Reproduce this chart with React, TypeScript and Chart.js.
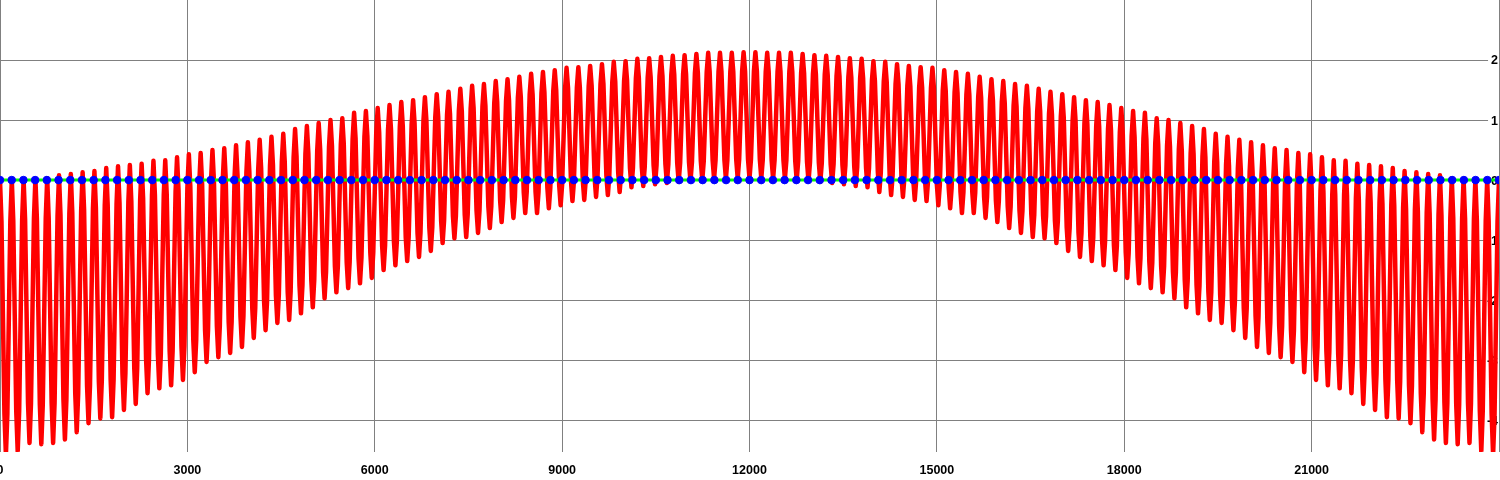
import React, { useEffect, useRef } from 'react';
import { Chart, registerables } from 'chart.js';

Chart.register(...registerables);

// ---- axes ----
const X_MIN = 0;
const X_MAX = 24000;
const X_TICK_STEP = 3000;
const X_LABELS = [0, 3000, 6000, 9000, 12000, 15000, 18000, 21000];
const Y_MIN = -4.53;
const Y_MAX = 3;
const Y_TICKS = [-4, -3, -2, -1, 0, 1, 2];

// ---- red oscillation: value of each crest (127 cycles -> 128 crests) ----
const CREST_VALUES = [
  0.00, 0.00, 0.01, 0.02, 0.03, 0.08, 0.10, 0.13, 0.15, 0.20,
  0.23, 0.25, 0.27, 0.32, 0.33, 0.38, 0.43, 0.45, 0.50, 0.53,
  0.58, 0.63, 0.67, 0.72, 0.77, 0.85, 0.90, 0.95, 1.00, 1.03,
  1.12, 1.15, 1.20, 1.25, 1.30, 1.33, 1.38, 1.43, 1.47, 1.52,
  1.57, 1.60, 1.65, 1.68, 1.72, 1.77, 1.80, 1.83, 1.87, 1.88,
  1.90, 1.93, 1.97, 1.98, 2.02, 2.03, 2.05, 2.07, 2.08, 2.10,
  2.12, 2.12, 2.12, 2.13,
  2.13, 2.12, 2.12, 2.12, 2.10, 2.08, 2.07, 2.05, 2.03, 2.02,
  1.98, 1.97, 1.93, 1.90, 1.88, 1.87, 1.83, 1.80, 1.77, 1.72,
  1.68, 1.65, 1.60, 1.57, 1.52, 1.47, 1.43, 1.38, 1.33, 1.30,
  1.25, 1.20, 1.15, 1.12, 1.03, 1.00, 0.95, 0.90, 0.85, 0.77,
  0.72, 0.67, 0.63, 0.58, 0.53, 0.50, 0.45, 0.43, 0.38, 0.33,
  0.32, 0.27, 0.25, 0.23, 0.20, 0.15, 0.13, 0.10, 0.08, 0.03,
  0.02, 0.01, 0.00, 0.00,
];

// ---- red oscillation: value of each trough (one per cycle, 127) ----
const TROUGH_VALUES = [
  -4.58, -4.52, -4.38, -4.40, -4.38, -4.32, -4.20, -4.05, -3.97, -3.95,
  -3.83, -3.73, -3.55, -3.47, -3.42, -3.33, -3.20, -3.03, -2.95, -2.88,
  -2.78, -2.63, -2.50, -2.38, -2.33, -2.22, -2.12, -1.97, -1.87, -1.80,
  -1.72, -1.63, -1.50, -1.42, -1.35, -1.28, -1.18, -1.05, -0.97, -0.95,
  -0.88, -0.80, -0.70, -0.63, -0.55, -0.55, -0.47, -0.42, -0.35, -0.33,
  -0.28, -0.25, -0.20, -0.12, -0.10, -0.07, -0.05, -0.03, -0.02, 0.00,
  0.02, 0.02, 0.03, 0.03,
  0.03, 0.02, 0.02, 0.00, -0.02, -0.03, -0.05, -0.07, -0.10, -0.12,
  -0.20, -0.25, -0.28, -0.33, -0.35, -0.42, -0.47, -0.55, -0.55, -0.63,
  -0.70, -0.80, -0.88, -0.95, -0.97, -1.05, -1.18, -1.28, -1.35, -1.42,
  -1.50, -1.63, -1.72, -1.80, -1.87, -1.97, -2.12, -2.22, -2.33, -2.38,
  -2.50, -2.63, -2.78, -2.88, -2.95, -3.03, -3.20, -3.33, -3.42, -3.47,
  -3.55, -3.73, -3.83, -3.95, -3.97, -4.05, -4.20, -4.32, -4.38, -4.40,
  -4.38, -4.52, -4.58,
];

// shape of one falling / rising half-cycle (share of the crest-trough span)
const FALL_PROFILE = [0.85, 0.5, 0.15];
const RISE_PROFILE = [0.15, 0.5, 0.85];

// ---- blue markers on the green line ----
const MARKER_STEP = 187.5;
const MARKER_COUNT = 129;
const MARKER_VALUE = 0;

function buildWave() {
  const cycles = TROUGH_VALUES.length;
  const period = (X_MAX - X_MIN) / cycles;
  const sub = period / 8;
  const pts: { x: number; y: number }[] = [];
  for (let k = 0; k < cycles; k++) {
    const x0 = X_MIN + k * period;
    const P = CREST_VALUES[k];
    const T = TROUGH_VALUES[k];
    const P2 = CREST_VALUES[k + 1];
    pts.push({ x: x0, y: P });
    FALL_PROFILE.forEach((f, i) => pts.push({ x: x0 + (i + 1) * sub, y: T + f * (P - T) }));
    pts.push({ x: x0 + 4 * sub, y: T });
    RISE_PROFILE.forEach((f, i) => pts.push({ x: x0 + (5 + i) * sub, y: T + f * (P2 - T) }));
  }
  pts.push({ x: X_MAX, y: CREST_VALUES[cycles] });
  return pts;
}

function buildMarkers() {
  const pts: { x: number; y: number }[] = [];
  for (let i = 0; i < MARKER_COUNT; i++) pts.push({ x: X_MIN + i * MARKER_STEP, y: MARKER_VALUE });
  return pts;
}

const FONT = 'bold 12.5px "Liberation Sans", Arial, sans-serif';

// tick labels drawn through the chart's own scales, under the data
const labelPlugin = {
  id: 'axisLabels',
  beforeDatasetsDraw(chart: any) {
    const { ctx, chartArea, scales } = chart;
    ctx.save();
    ctx.font = FONT;
    // y labels, inside the right edge
    ctx.textAlign = 'right';
    ctx.textBaseline = 'middle';
    const right = chartArea.right - 1;
    Y_TICKS.forEach((v) => {
      const py = scales.y.getPixelForValue(v);
      const text = String(v);
      const w = ctx.measureText(text).width;
      ctx.fillStyle = '#ffffff';
      ctx.fillRect(right - w - 3, py - 2, w + 4, 4);
      ctx.fillStyle = '#000000';
      ctx.fillText(text, right, py + 1);
    });
    // x labels below the plot
    ctx.textAlign = 'center';
    ctx.fillStyle = '#000000';
    X_LABELS.forEach((v) => {
      const px = scales.x.getPixelForValue(v);
      ctx.fillText(String(v), px, chartArea.bottom + 19);
    });
    ctx.restore();
  },
};

export default function App() {
  const ref = useRef<HTMLCanvasElement | null>(null);
  useEffect(() => {
    document.body.style.margin = '0';
    const canvas = ref.current;
    if (!canvas) return;
    const chart = new Chart(canvas, {
      type: 'line',
      data: {
        datasets: [
          {
            label: 'markers',
            data: buildMarkers(),
            borderColor: '#00ff00',
            borderWidth: 3,
            pointRadius: 3.8,
            pointBackgroundColor: '#0000ff',
            pointBorderColor: '#0000ff',
            pointBorderWidth: 1,
            order: 1,
          },
          {
            label: 'signal',
            data: buildWave(),
            borderColor: '#ff0000',
            borderWidth: 4.5,
            borderJoinStyle: 'round',
            pointRadius: 0,
            tension: 0,
            order: 2,
          },
        ],
      },
      options: {
        animation: false,
        responsive: false,
        devicePixelRatio: 1,
        layout: { padding: { left: 0, right: 1, top: 0, bottom: 28 }, autoPadding: false },
        plugins: { legend: { display: false }, tooltip: { enabled: false } },
        scales: {
          x: {
            type: 'linear',
            min: X_MIN,
            max: X_MAX,
            border: { display: false },
            grid: { color: '#808080', lineWidth: 1, drawTicks: false },
            ticks: { stepSize: X_TICK_STEP, display: false },
          },
          y: {
            type: 'linear',
            position: 'right',
            min: Y_MIN,
            max: Y_MAX,
            border: { display: false },
            grid: { color: '#808080', lineWidth: 1, drawTicks: false },
            afterBuildTicks: (axis: any) => {
              axis.ticks = Y_TICKS.map((v) => ({ value: v }));
            },
            ticks: { display: false },
          },
        },
      },
      plugins: [labelPlugin],
    } as any);
    return () => chart.destroy();
  }, []);
  return (
    <div style={{ width: 1500, height: 480 }}>
      <canvas ref={ref} width={1500} height={480} style={{ display: 'block' }} />
    </div>
  );
}
